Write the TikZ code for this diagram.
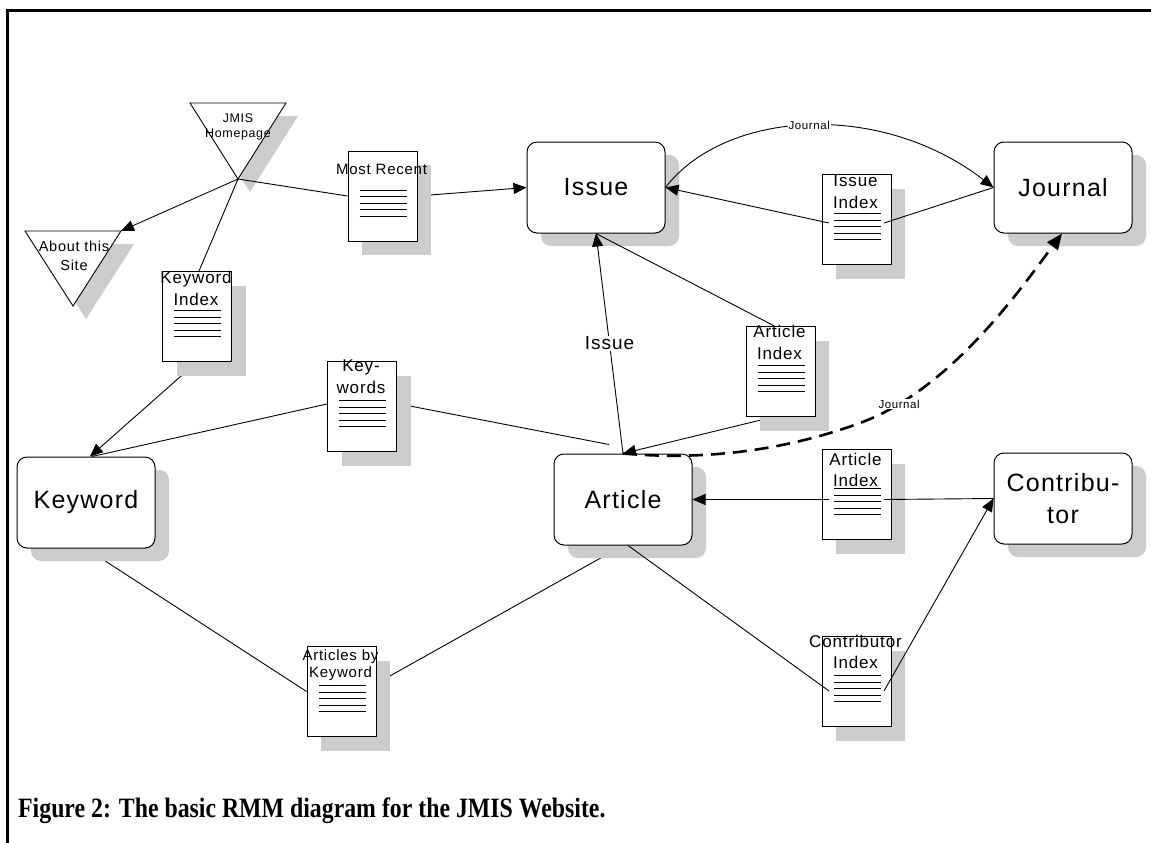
\documentclass[tikz,border=0pt]{standalone}
\usepackage{fontspec}
\usepackage{graphicx}
\setmainfont{Liberation Sans}
\newfontfamily\lbl[LetterSpace=5]{Liberation Sans}
\newfontfamily\capfont{Liberation Serif}
\usetikzlibrary{arrows.meta,shadows,backgrounds}

\tikzset{
 x=1pt, y=-1pt,
 rbox/.style={draw, line width=1pt, rounded corners=10pt, fill=white,
   minimum width=138pt, minimum height=91pt, inner sep=0pt, align=center,
   font=\lbl\fontsize{25}{32}\selectfont,
   drop shadow={shadow xshift=14pt, shadow yshift=-13pt, opacity=1, fill=black!20}},
 docbox/.style={draw, line width=0.9pt, fill=white, minimum width=69pt,
   minimum height=90pt, inner sep=0pt,
   drop shadow={shadow xshift=14pt, shadow yshift=-14pt, opacity=1, fill=black!20}},
 doctext/.style={inner sep=0pt, align=center, anchor=north},
 conn/.style={line width=0.9pt},
 arr/.style={conn, -{Triangle[length=13pt,width=11pt]}},
 elabel/.style={fill=white, inner sep=1pt, font=\lbl\fontsize{19}{22}\selectfont},
 slabel/.style={fill=white, inner sep=1pt, font=\lbl\fontsize{11.5}{13}\selectfont},
 tri/.style={draw, line width=0.9pt, fill=white},
 trishadow/.style={fill=black!20},
 dashedconn/.style={line width=2.6pt, dash pattern=on 14pt off 8pt,
   -{Triangle[length=16pt,width=13pt]}},
}

% name, cx, cy, text, font size, baselineskip, text offset from top
\newcommand{\docnode}[7]{%
  \node[docbox] (#1) at (#2,#3) {};
  \foreach \k in {0,...,4}{%
    \draw[line width=0.9pt] ([shift={(12,39.5+6.5*\k)}]#1.north west) -- ++(47,0);
  }
  \node[doctext, font=\lbl\fontsize{#5}{#6}\selectfont] (#1-t) at ([shift={(-1,#7)}]#1.north) {#4};
}

\begin{document}
\begin{tikzpicture}
\useasboundingbox (0,0) rectangle (1151,843);
\begin{pgfonlayer}{background}
\fill[white] (0,0) rectangle (1151,843);
\end{pgfonlayer}

% frame
\draw[line width=3pt] (7,843) -- (7,11) -- (1151,11);

% triangles
\fill[trishadow] (202,116) -- (298,116) -- (250,192) -- cycle;
\draw[tri] (190,103) -- (286,103) -- (238,179) -- cycle;
\coordinate (home) at (238,179);
\node[inner sep=0pt, align=center, anchor=north, font=\lbl\fontsize{12.5}{15}\selectfont] (hometext) at (238,114) {JMIS\\Homepage};

\fill[trishadow] (38,244) -- (134,244) -- (86,319) -- cycle;
\draw[tri] (25,231) -- (121,231) -- (73,306) -- cycle;
\coordinate (about) at (121,231);
\node[inner sep=0pt, align=center, anchor=north, font=\lbl\fontsize{14.5}{19}\selectfont] (abouttext) at (74,240.5) {About this\\Site};

% main boxes
\node[rbox] (issue) at (596,187.5) {Issue};
\node[rbox] (journal) at (1063,187.5) {Journal};
\node[rbox] (article) at (623,499.5) {Article};
\node[rbox] (contributor) at (1063,498.5) {Contribu-\\tor};
\node[rbox] (keyword) at (86,502.5) {Keyword};

% documents
\docnode{kwindex}{197}{316.5}{Keyword\\Index}{17}{22}{-0.5}
\docnode{mostrecent}{382.5}{196}{Most Recent}{15}{18}{13}
\docnode{issueindex}{856.5}{219.5}{Issue\\Index}{17}{22}{0.8}
\docnode{artindex1}{780.5}{371.5}{Article\\Index}{17}{22}{-1.4}
\docnode{keywords}{362}{406.5}{Key-\\words}{17}{22}{-1.2}
\docnode{artbykw}{341.5}{691.5}{Articles by\\Keyword}{15}{17}{3}
\docnode{artindex2}{856.5}{494.5}{Article\\Index}{17}{21}{3.6}
\docnode{contribindex}{856.5}{681.5}{Contributor\\Index}{17}{21}{-1.4}

% connectors behind shadows
\begin{pgfonlayer}{background}
\draw[arr] (mostrecent.east) -- (issue.west);
\draw[arr] (kwindex.south) -- ([shift={(4,0)}]keyword.north);
\draw[conn] ([shift={(0,-2.5)}]keywords.west) -- ([shift={(6,0)}]keyword.north);
\draw[conn] ([shift={(0,-3)}]keywords.east) -- ([shift={(-14,-9)}]article.north);
\draw[arr] ([shift={(-7,0)}]artindex1.south) -- (article.north);
\draw[conn] (keyword.south) -- (artbykw.west);
\draw[conn] (article.south) -- ([shift={(0,-8)}]artbykw.east);
\end{pgfonlayer}

% connectors on top
\draw[arr] (article.north) -- node[elabel] (issuelabel) {Issue} (issue.south);
\draw[conn] (issue.south) -- ([shift={(-6,0)}]artindex1.north);
\draw[arr] (home) -- (about);
\draw[conn] (home) -- (mostrecent.west);
\draw[conn] (home) -- ([shift={(2,0)}]kwindex.north);
\draw[arr] ([shift={(-27.5,3.5)}]issueindex.center) -- (issue.east);
\draw[conn] ([shift={(27.5,3.5)}]issueindex.center) -- (journal.west);
\draw[arr] ([shift={(-27.5,5)}]artindex2.center) -- (article.east);
\draw[conn] ([shift={(27.5,5)}]artindex2.center) -- (contributor.west);
\draw[arr] ([shift={(27.5,9.5)}]contribindex.center) -- (contributor.west);
\draw[conn] ([shift={(-27.5,9.5)}]contribindex.center) -- ([shift={(5,0)}]article.south);
\draw[arr] (issue.east) .. controls (725,110) and (880,100) .. (journal.west)
  node[slabel, pos=0.5] (jlabel1) {Journal};
\coordinate (jmid) at (860,423);
\draw[dashedconn] (article.north) .. controls (720,462) and (800,445) .. (jmid)
  .. controls (950,390) and (1020,290) .. ([shift={(-1,0)}]journal.south)
  node[slabel, pos=0.15] (jlabel2) {Journal};

% caption
\node[anchor=base west, inner sep=0pt] (caption) at (18,817)
  {\scalebox{0.85}[1]{\capfont\bfseries\fontsize{28}{32}\selectfont Figure 2: The basic RMM diagram for the JMIS Website.}};
\end{tikzpicture}
\end{document}
